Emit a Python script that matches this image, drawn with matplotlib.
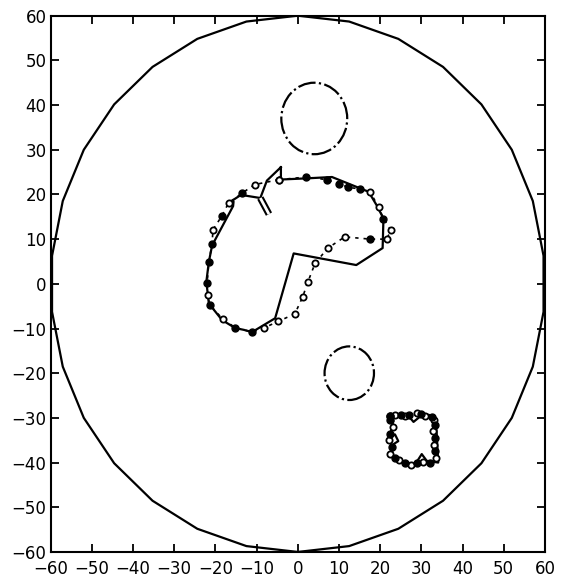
import matplotlib
matplotlib.use("Agg")
import matplotlib.pyplot as plt
from matplotlib.patches import Circle, RegularPolygon

# ----------------------------------------
# Data
# ----------------------------------------
BOUNDARY_RADIUS = 60
BOUNDARY_SIDES = 30

HOLES = [
    {"center": (4, 37), "radius": 8},
    {"center": (12.5, -20), "radius": 6},
]

# solid contour of the large object
blob_x = [-4.1, -4.1, -5.1, 2.2, 8.3, 17.2, 19.2, 20.8, 20.6, 14.2, -1.0,
          -5.5, -11.1, -13.1, -15.2, -18.4, -21.6, -22.2, -21.6, -20.8,
          -15.7, -15.6, -16.8, -13.8, -9.1, -7.5, -4.1]
blob_y = [26.1, 24.0, 23.3, 23.6, 23.9, 20.6, 17.5, 14.6, 8.0, 4.2, 6.8,
          -7.7, -10.8, -10.3, -9.9, -8.1, -4.4, 0.5, 4.9, 8.6,
          17.4, 18.4, 18.1, 19.9, 19.2, 23.1, 26.1]

# small stub hanging off the contour
stub_x = [-9.1, -7.0]
stub_y = [19.2, 15.6]

# dotted estimated contour of the large object
est_x = [-4.65, -10.5, -13.5, -16.8, -18.5, -20.6, -20.8, -21.6, -22.0,
         -21.9, -21.4, -18.2, -15.2, -11.1, -8.1, -4.7, -0.7, 1.2, 2.4,
         4.2, 7.3, 11.4, 17.6, 21.6, 22.6, 20.8, 19.6, 17.6, 15.2, 12.3,
         9.9, 7.1, 2.1, -4.65]
est_y = [23.3, 22.2, 20.3, 18.1, 15.1, 12.1, 9.0, 4.9, 0.2,
         -2.5, -4.7, -7.9, -9.8, -10.8, -9.8, -8.4, -6.7, -2.9, 0.3,
         4.6, 8.0, 10.5, 10.0, 10.0, 12.0, 14.6, 17.2, 20.5, 21.2, 21.6,
         22.4, 23.3, 23.9, 23.3]
est_filled = [False, False, True, False, True, False, True, True, True,
              False, True, False, True, True, False, False, False, False, False,
              False, False, False, True, False, False, True, False, False, True, True,
              True, True, True, False]

# solid contour of the small square object
sq_x = [22.8, 26.9, 28.1, 30.5, 33.3, 33.7, 34.1, 31.3, 30.1, 28.5, 26.5,
        24.0, 22.8, 23.2, 24.4, 23.6, 22.4, 22.8, 23.2, 22.8]
sq_y = [-29.2, -29.6, -30.9, -29.1, -29.6, -32.9, -40.0, -39.6, -38.1, -40.4, -40.0,
        -39.2, -38.5, -35.9, -35.2, -33.7, -34.4, -32.2, -30.7, -29.2]

# dotted estimated contour of the square object
sq_est_x = [22.5, 23.5, 25.0, 26.0, 27.0, 29.0, 30.0, 31.0, 32.5, 33.0, 33.2,
            32.8, 33.3, 33.0, 33.3, 33.5, 32.0, 30.5, 29.0, 27.5, 26.0, 24.5,
            23.5, 22.5, 22.8, 22.2, 22.5, 23.0, 22.5, 22.5]
sq_est_y = [-29.5, -29.3, -29.3, -29.5, -29.3, -29.0, -29.2, -29.5, -29.8, -30.5, -31.5,
            -33.0, -34.5, -36.0, -37.5, -39.0, -40.0, -39.8, -40.2, -40.6, -40.0, -39.5,
            -39.0, -38.0, -36.5, -35.0, -33.5, -32.0, -30.5, -29.5]
sq_est_filled = [True, False, True, False, True, False, True, False, True, False, True,
                 False, True, False, True, False, True, False, True, False, True, False,
                 True, False, True, False, True, False, True, True]

TICKS = list(range(-60, 61, 10))

# ----------------------------------------
# Figure
# ----------------------------------------
fig = plt.figure(figsize=(5.76, 5.81), dpi=100)
ax = fig.add_axes([0.088, 0.05, 0.858, 0.923])

ax.add_patch(RegularPolygon((0, 0), BOUNDARY_SIDES, radius=BOUNDARY_RADIUS,
                            fill=False, edgecolor="black", linewidth=1.6))

for hole in HOLES:
    ax.add_patch(Circle(hole["center"], hole["radius"], fill=False,
                        edgecolor="black", linewidth=1.6,
                        linestyle=(0, (8, 1.5, 1, 1.5))))

ax.plot(blob_x, blob_y, color="black", linewidth=1.6)
ax.plot(stub_x, stub_y, color="black", linewidth=5, solid_capstyle="butt")
ax.plot(stub_x, stub_y, color="white", linewidth=2, solid_capstyle="butt")

ax.plot(sq_x, sq_y, color="black", linewidth=1.6)


def draw_estimate(xs, ys, filled):
    ax.plot(xs, ys, color="black", linewidth=1.2, linestyle=(0, (2, 3)))
    open_x = [x for x, f in zip(xs, filled) if not f]
    open_y = [y for y, f in zip(ys, filled) if not f]
    full_x = [x for x, f in zip(xs, filled) if f]
    full_y = [y for y, f in zip(ys, filled) if f]
    ax.plot(open_x, open_y, linestyle="none", marker="o", markersize=4.5,
            markerfacecolor="white", markeredgecolor="black", markeredgewidth=1.3)
    ax.plot(full_x, full_y, linestyle="none", marker="o", markersize=5,
            markerfacecolor="black", markeredgecolor="black")


draw_estimate(est_x, est_y, est_filled)
draw_estimate(sq_est_x, sq_est_y, sq_est_filled)

ax.set_xlim(-60, 60)
ax.set_ylim(-60, 60)
ax.set_xticks(TICKS)
ax.set_yticks(TICKS)
ax.tick_params(direction="in", length=6, width=1.3, top=True, right=True,
               labelsize=12)
ax.tick_params(axis="x", pad=6)
ax.tick_params(axis="y", pad=3)
for spine in ax.spines.values():
    spine.set_linewidth(1.5)

fig.savefig("out.png", dpi=100)
